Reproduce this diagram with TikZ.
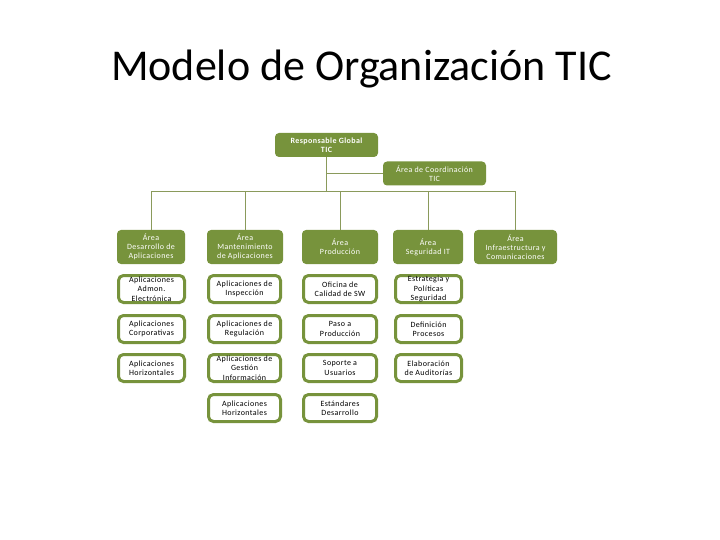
\documentclass[tikz,border=0pt]{standalone}
\usepackage{fontspec}
\setmainfont{Carlito}
\newfontfamily\boxfont[LetterSpace=5]{Carlito}
\definecolor{olivebox}{HTML}{77933C}
\definecolor{conn}{HTML}{8A9A5B}
\begin{document}
\begin{tikzpicture}[x=1bp,y=-1bp,
  hd/.style={fill=olivebox, rounded corners=4bp, text=white, align=center, inner sep=0pt,
    font=\boxfont\fontsize{8bp}{9.3bp}\selectfont},
  lv/.style={draw=olivebox, line width=3bp, fill=white, rounded corners=5bp, align=center,
    inner sep=0pt, minimum height=27bp, font=\boxfont\fontsize{8bp}{9.3bp}\selectfont},
  cn/.style={draw=conn, line width=1bp}]
\useasboundingbox (0,0) rectangle (720,540);
\node[anchor=base, font=\fontsize{44bp}{50bp}\selectfont] (title) at (361.5,81) {Modelo de Organización TIC};

\node[hd, minimum width=103bp, minimum height=24bp, font=\boxfont\fontsize{8bp}{9.3bp}\selectfont\bfseries] (resp) at (326.5,145) {Responsable Global\\TIC};
\node[hd, minimum width=103bp, minimum height=24bp] (coord) at (434.5,173.5) {Área de Coordinación\\TIC};

\node[hd, minimum width=68bp, minimum height=34bp] (a1) at (151,247) {Área\\Desarrollo de\\Aplicaciones};
\node[hd, minimum width=76bp, minimum height=34bp] (a2) at (245,247) {Área\\Mantenimiento\\de Aplicaciones};
\node[hd, minimum width=76bp, minimum height=34bp] (a3) at (340,247) {Área\\Producción};
\node[hd, minimum width=70bp, minimum height=34bp] (a4) at (428,247) {Área\\Seguridad IT};
\node[hd, minimum width=83bp, minimum height=34bp] (a5) at (515.5,247) {Área\\Infraestructura y\\Comunicaciones};

% column 1
\node[lv, minimum width=66bp] (b11) at (151.5,289) {Aplicaciones\\Admon.\\Electrónica};
\node[lv, minimum width=66bp] (b12) at (151.5,329) {Aplicaciones\\Corporativas};
\node[lv, minimum width=66bp] (b13) at (151.5,368) {Aplicaciones\\Horizontales};
% column 2
\node[lv, minimum width=72bp] (b21) at (244.5,289) {Aplicaciones de\\Inspección};
\node[lv, minimum width=72bp] (b22) at (244.5,329) {Aplicaciones de\\Regulación};
\node[lv, minimum width=72bp] (b23) at (244.5,368) {Aplicaciones de\\Gestión\\Información};
\node[lv, minimum width=72bp] (b24) at (244.5,408) {Aplicaciones\\Horizontales};
% column 3
\node[lv, minimum width=73bp] (b31) at (340,289) {Oficina de\\Calidad de SW};
\node[lv, minimum width=73bp] (b32) at (340,329) {Paso a\\Producción};
\node[lv, minimum width=73bp] (b33) at (340,368) {Soporte a\\Usuarios};
\node[lv, minimum width=73bp] (b34) at (340,408) {Estándares\\Desarrollo};
% column 4
\node[lv, minimum width=66bp] (b41) at (428.5,289) {Estrategia y\\Políticas\\Seguridad};
\node[lv, minimum width=66bp] (b42) at (428.5,329) {Definición\\Procesos};
\node[lv, minimum width=66bp] (b43) at (428.5,368) {Elaboración\\de Auditorías};

% connectors
\coordinate (bar) at (resp.south |- 0,192);
\coordinate (brc) at (resp.south |- coord.west);
\draw[cn] (resp.south) -- (bar);
\draw[cn] (brc) -- (coord.west);
\draw[cn] (a1.north |- bar) -- (a5.north |- bar);
\foreach \n in {a1,a2,a3,a4,a5} \draw[cn] (\n.north |- bar) -- (\n.north);
\end{tikzpicture}
\end{document}
